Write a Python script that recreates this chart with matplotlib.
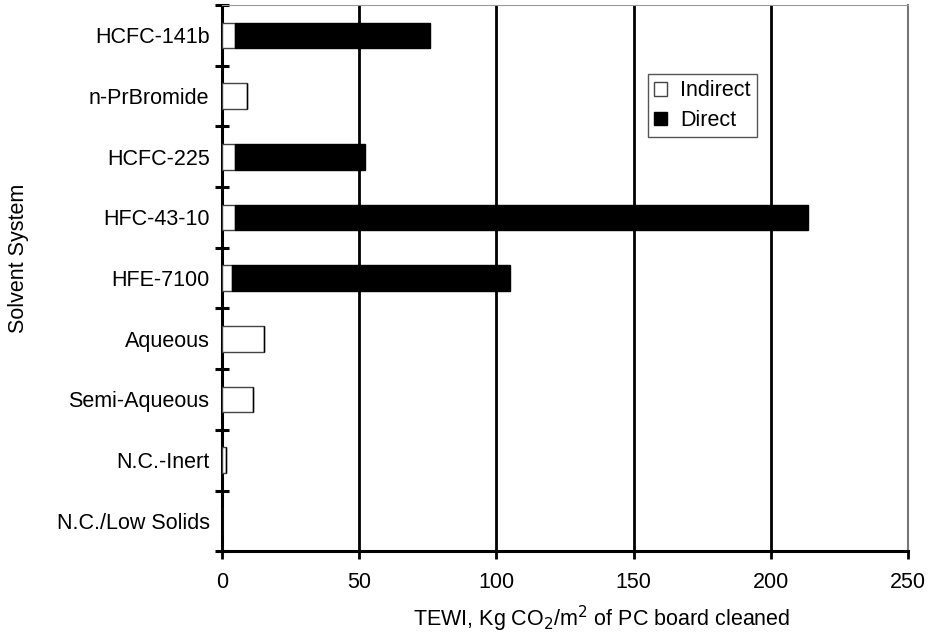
import matplotlib
matplotlib.use("Agg")
import matplotlib.pyplot as plt
import numpy as np
from matplotlib.patches import Patch

plt.rcParams['font.family'] = ['Liberation Sans', 'DejaVu Sans']

# data (kg CO2 per m2 of board)
solvents = ['HCFC-141b', 'n-PrBromide', 'HCFC-225', 'HFC-43-10', 'HFE-7100',
            'Aqueous', 'Semi-Aqueous', 'N.C.-Inert', 'N.C./Low Solids']
indirect = [4.7, 9.1, 4.6, 4.6, 3.6, 15.2, 11.4, 1.6, 0.0]
direct = [71.2, 0.0, 47.5, 209.0, 101.4, 0.0, 0.0, 0.0, 0.0]
xticks = [0, 50, 100, 150, 200, 250]

fs = 15.5
fig = plt.figure(figsize=(9.38, 6.35), dpi=100)
ax = fig.add_axes([0.2367, 0.132, 0.7313, 0.860])

n = len(solvents)
ypos = np.arange(n)[::-1]
h = 0.42
ax.barh(ypos, indirect, height=h, color='white', edgecolor='#444444', linewidth=1, zorder=3)
ax.barh(ypos, direct, left=indirect, height=h, color='black', edgecolor='black', linewidth=1, zorder=3)

ax.set_xlim(0, 250)
ax.set_ylim(-0.5, n - 0.5)
ax.set_xticks(xticks)
ax.set_xticklabels([str(t) for t in xticks], fontsize=fs)
ax.set_yticks(ypos)
ax.set_yticklabels(solvents, fontsize=fs)
ax.set_yticks(np.arange(n + 1) - 0.5, minor=True)

ax.tick_params(axis='y', which='major', length=0, pad=9)
ax.tick_params(axis='y', which='minor', direction='inout', length=10, width=2.2, color='black')
ax.tick_params(axis='x', which='major', direction='out', length=6, width=2, color='black', pad=9)

for t in xticks[1:-1]:
    ax.axvline(t, color='black', linewidth=2, zorder=1)

ax.spines['left'].set_linewidth(2.2)
ax.spines['bottom'].set_linewidth(2.2)
ax.spines['top'].set_color('#999999')
ax.spines['right'].set_color('#777777')
ax.spines['right'].set_linewidth(1.5)

ax.set_xlabel('TEWI, Kg CO$_2$/m$^2$ of PC board cleaned', fontsize=fs)
ax.xaxis.set_label_coords(0.553, -0.097)
ax.set_ylabel('Solvent System', fontsize=fs)
ax.yaxis.set_label_coords(-0.282, 0.537)

handles = [Patch(facecolor='white', edgecolor='#444444', label='Indirect'),
           Patch(facecolor='black', edgecolor='black', label='Direct')]
leg = ax.legend(handles=handles, loc='upper left', bbox_to_anchor=(0.621, 0.874),
                fontsize=fs, frameon=True, fancybox=False, handlelength=0.6,
                handleheight=0.6, handletextpad=0.6, borderpad=0.3, labelspacing=0.4,
                borderaxespad=0)
leg.get_frame().set_edgecolor('#555555')
leg.get_frame().set_linewidth(1)
leg.get_frame().set_alpha(1)

fig.savefig('out.png', dpi=100)
